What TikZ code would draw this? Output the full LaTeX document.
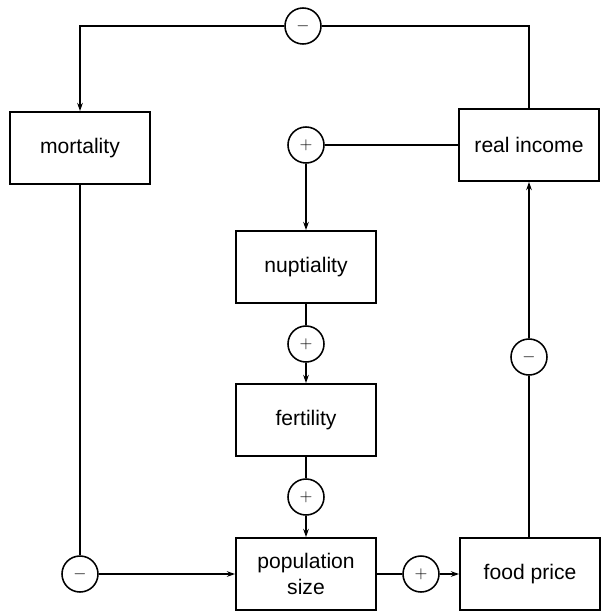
\documentclass[tikz,border=0pt]{standalone}
\usepackage{fontspec}
\setmainfont{Liberation Sans}
\usepackage{tikz}
\usetikzlibrary{arrows.meta}

\begin{document}
\begin{tikzpicture}[x=0.025cm,y=-0.025cm,
    box/.style={draw, line width=1.1pt, minimum width=3.5cm, minimum height=1.8cm,
        inner sep=0pt, align=center, font=\fontsize{15}{19}\selectfont},
    sign/.style={draw, circle, line width=1.1pt, minimum size=0.9cm, inner sep=0pt, font=\large},
    conn/.style={line width=1.1pt},
    tip/.style={conn, -{Stealth[length=6pt,width=4pt]}}]
    \useasboundingbox (0,0) rectangle (600,612);

    \node[box] (mortality) at (80,148) {mortality};
    \node[box] (income) at (529,145) {real income};
    \node[box] (nuptiality) at (306,267) {nuptiality};
    \node[box] (fertility) at (306,420) {fertility};
    \node[box] (popsize) at (306,574) {population\\size};
    \node[box] (foodprice) at (530,574) {food price};

    \node[sign] (incmort) at (303,26) {$-$};
    \node[sign] (incnupt) at (306,145) {$+$};
    \node[sign] (nuptfert) at (306,344) {$+$};
    \node[sign] (fertpop) at (306,497) {$+$};
    \node[sign] (mortpop) at (80,574) {$-$};
    \node[sign] (popfood) at (421,574) {$+$};
    \node[sign] (foodinc) at (529,357) {$-$};

    \draw[conn] (income.north) |- (incmort);
    \draw[tip] (incmort) -| (mortality.north);

    \draw[conn] (income.west) -- (incnupt);
    \draw[tip] (incnupt) -- (nuptiality.north);

    \draw[conn] (nuptiality.south) -- (nuptfert);
    \draw[tip] (nuptfert) -- (fertility.north);

    \draw[conn] (fertility.south) -- (fertpop);
    \draw[tip] (fertpop) -- (popsize.north);

    \draw[conn] (mortality.south) -- (mortpop);
    \draw[tip] (mortpop) -- (popsize.west);

    \draw[conn] (popsize.east) -- (popfood);
    \draw[tip] (popfood) -- (foodprice.west);

    \draw[conn] (foodprice.north -| foodinc) -- (foodinc);
    \draw[tip] (foodinc) -- (income.south -| foodinc);
\end{tikzpicture}
\end{document}
